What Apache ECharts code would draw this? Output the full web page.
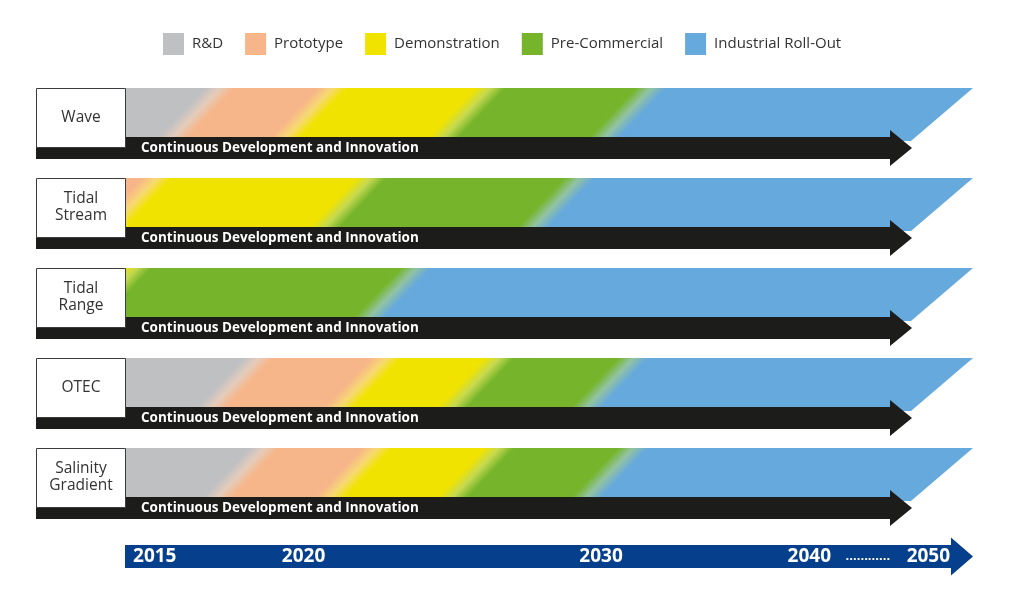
<!DOCTYPE html>
<html>
<head>
<meta charset="utf-8">
<script src="https://cdn.jsdelivr.net/npm/echarts@6/dist/echarts.min.js"></script>
<style>html,body{margin:0;padding:0;background:#fff;}#c{width:1024px;height:599px;}</style>
</head>
<body>
<div id="c"></div>
<script>
// ---------- data ----------
const technologies = ['Wave', 'Tidal Stream', 'Tidal Range', 'OTEC', 'Salinity Gradient'];
const techLabels = ['Wave', 'Tidal\nStream', 'Tidal\nRange', 'OTEC', 'Salinity\nGradient'];
const phases = ['R&D', 'Prototype', 'Demonstration', 'Pre-Commercial', 'Industrial Roll-Out'];
// timeline position where each phase begins (measured at band mid-height)
const prototypeStart     = [2016.4, 2012.0, 2010.0, 2017.7, 2017.9];
const demonstrationStart = [2020.2, 2014.3, 2011.5, 2022.0, 2021.7];
const preCommercialStart = [2025.5, 2021.5, 2013.6, 2025.8, 2025.8];
const rollOutStart       = [2030.9, 2028.5, 2023.0, 2030.3, 2030.3];
const yearLabels  = ['2015', '2020', '2030', '2040', '2050'];
const yearLabelAt = [2015, 2020, 2030, 2037, 2041];   // compressed after 2030 as in the original
const breakDotsAt = 2039;
const timelineStart = 2014;
const timelineEnd = 2042.5;
const arrowLabel = 'Continuous Development and Innovation';

// ---------- style ----------
const phaseColors = ['#bec0c2', '#f7b689', '#f1e300', '#76b52b', '#66a9dc'];
const FONT = '"Open Sans", "Noto Sans", sans-serif';
const GRID = {left: 125, right: 51, top: 83, bottom: 66};

function hexToRgb(h) { h = h.replace('#', ''); return [0, 2, 4].map(k => parseInt(h.substr(k, 2), 16)); }
function mixLight(a, b) {
  const A = hexToRgb(a), B = hexToRgb(b);
  const m = A.map((v, k) => (v + B[k]) / 2);
  const l = m.map(v => Math.round(v + (255 - v) * 0.25));
  return 'rgb(' + l.join(',') + ')';
}
const clamp = v => Math.max(0, Math.min(1, v));

function bandFill(i, x0, xEnd, ymid, toX) {
  const s = 0.95, b = 15;
  const xa = x0 - 150;
  const F = (xEnd + 150) - xa;
  const lam = F / (1 + s * s);
  const starts = [prototypeStart[i], demonstrationStart[i], preCommercialStart[i], rollOutStart[i]];
  const stops = [{offset: 0, color: phaseColors[0]}];
  let last = 0;
  starts.forEach((t, k) => {
    const xc = toX(t);
    let o1 = Math.max(last, clamp((xc - b - xa) / F));
    let om = Math.max(o1, clamp((xc - xa) / F));
    let o2 = Math.max(om, clamp((xc + b - xa) / F));
    stops.push({offset: o1, color: phaseColors[k]});
    stops.push({offset: om, color: mixLight(phaseColors[k], phaseColors[k + 1])});
    stops.push({offset: o2, color: phaseColors[k + 1]});
    last = o2;
  });
  stops.push({offset: 1, color: phaseColors[4]});
  return {type: 'linear', x: xa, y: ymid, x2: xa + lam, y2: ymid + lam * s, colorStops: stops, global: true};
}

function renderRow(params, api) {
  const i = params.dataIndex;
  const p0 = api.coord([timelineStart, i]);
  const x0 = p0[0], c = p0[1];
  const xEnd = api.coord([timelineEnd, i])[0];
  const toX = t => api.coord([t, i])[0];
  const top = c - 40, bot = c + 13;
  const edge = 1.17;
  const boxLeft = x0 - 89;
  const tip = xEnd - 61, base = xEnd - 83;
  return {
    type: 'group',
    children: [
      {type: 'polygon', shape: {points: [[x0, top], [xEnd, top], [xEnd - edge * (bot - top), bot], [x0, bot]]},
       style: {fill: bandFill(i, x0, xEnd, (top + c + 9) / 2, toX)}},
      {type: 'polygon', shape: {points: [[boxLeft, c + 9], [base, c + 9], [base, c + 2], [tip, c + 20], [base, c + 38], [base, c + 31], [boxLeft, c + 31]]},
       style: {fill: '#1c1c1a'}},
      {type: 'rect', shape: {x: boxLeft + 0.5, y: top + 0.5, width: 89, height: 59},
       style: {fill: '#ffffff', stroke: '#3c3c3c', lineWidth: 1}},
      {type: 'text', style: {text: techLabels[i], x: boxLeft + 45, y: top + 29.5, align: 'center', verticalAlign: 'middle',
        fill: '#333333', font: '15.5px ' + FONT, lineHeight: 17}},
      {type: 'text', style: {text: arrowLabel, x: x0 + 16, y: c + 20, align: 'left', verticalAlign: 'middle',
        fill: '#ffffff', font: 'bold 13.5px ' + FONT}}
    ]
  };
}

function renderTimeline(params, api) {
  const x0 = api.coord([timelineStart, 0])[0];
  const xEnd = api.coord([timelineEnd, 0])[0];
  const y = api.getHeight() - GRID.bottom + 23.5;
  const base = xEnd - 22;
  return {
    type: 'group',
    children: [
      {type: 'polygon', shape: {points: [[x0, y - 11.5], [base, y - 11.5], [base, y - 19], [xEnd, y], [base, y + 19], [base, y + 11.5], [x0, y + 11.5]]},
       style: {fill: '#063f8b'}},
      {type: 'text', style: {text: '............', x: api.coord([breakDotsAt, 0])[0] - 1, y: y, align: 'center', verticalAlign: 'middle',
        fill: '#ffffff', font: 'bold 13px ' + FONT}}
    ]
  };
}

const chart = echarts.init(document.getElementById('c'), null, {renderer: 'canvas'});
const legendSeries = phases.map((p, k) => ({name: p, type: 'bar', data: [], itemStyle: {color: phaseColors[k]}}));
chart.setOption({
  animation: false,
  backgroundColor: '#ffffff',
  legend: {
    data: phases, top: 33, left: 163, orient: 'horizontal', icon: 'rect', padding: 0,
    itemWidth: 21, itemHeight: 22, itemGap: 22,
    textStyle: {fontFamily: FONT, fontSize: 15, color: '#333333', padding: [0, 0, 0, 3]}
  },
  grid: Object.assign({containLabel: false, outerBoundsMode: 'none'}, GRID),
  xAxis: {
    type: 'value', min: timelineStart, max: timelineEnd, z: 10,
    splitLine: {show: false}, axisLine: {show: false}, axisTick: {show: false},
    axisLabel: {
      customValues: yearLabelAt,
      formatter: v => yearLabels[yearLabelAt.indexOf(v)] || '',
      color: '#ffffff', fontWeight: 'bold', fontSize: 19, fontFamily: FONT,
      margin: 24, verticalAlign: 'middle', hideOverlap: false
    }
  },
  yAxis: {type: 'category', data: technologies, inverse: true, show: false},
  series: [
    {name: 'roadmap', type: 'custom', renderItem: renderRow, data: technologies.map((t, i) => [i]), clip: false, z: 2, silent: true},
    {name: 'timeline', type: 'custom', renderItem: renderTimeline, data: [[0]], clip: false, z: 2, silent: true}
  ].concat(legendSeries)
});
</script>
</body>
</html>
